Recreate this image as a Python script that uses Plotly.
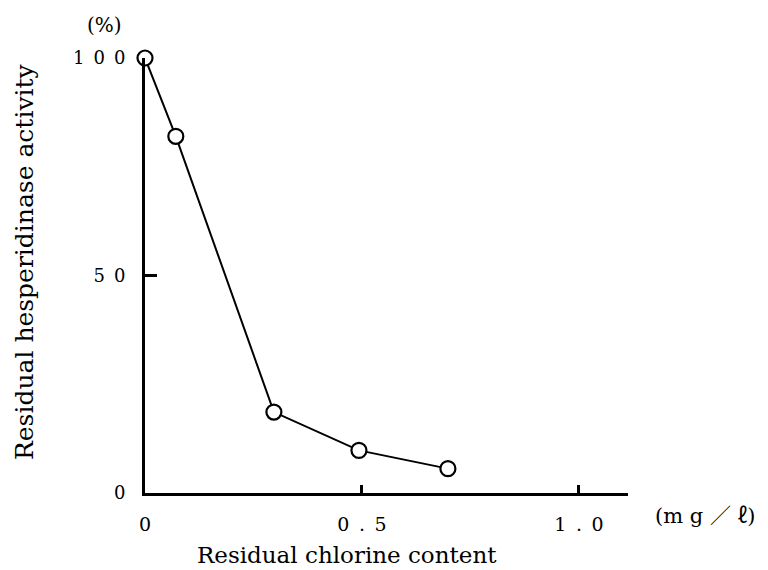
import plotly.graph_objects as go

chlorine = [0.0, 0.071, 0.297, 0.493, 0.698]
activity = [100, 82, 18.6, 9.8, 5.6]
x_tick_vals = [0, 0.5, 1.0]
x_tick_text = ["0", "0\u2002.\u20025", "1\u2002.\u20020"]
y_tick_vals = [0, 50, 100]
y_tick_text = ["0", "5\u20020", "1\u20020\u20020"]
x_title = "Residual chlorine content"
y_title = "Residual hesperidinase activity"
x_unit = "(m g ／ ℓ)"
y_unit = "(%)"

FONT = "DejaVu Serif, Liberation Serif, serif"
L, T, W, H = 145, 58, 483, 435  # plot area in pixels


def px(x, y):
    return (x - L) / W, 1 - (y - T) / H


fig = go.Figure()
fig.add_trace(go.Scatter(
    x=chlorine, y=activity, mode="lines+markers",
    line=dict(color="black", width=2),
    marker=dict(size=15, color="white", line=dict(color="black", width=2.2)),
    cliponaxis=False, showlegend=False,
))

ann = []
for text, (x, y), angle, size, fam in [
    (x_title, px(347, 555), 0, 23, FONT),
    (y_title, px(24, 262), -90, 25, FONT),
    (y_unit, px(104, 25), 0, 20, FONT),
    (x_unit, px(705, 516), 0, 21, "DejaVu Serif, Noto Sans CJK JP, serif"),
]:
    ann.append(dict(text=text, xref="paper", yref="paper", x=x, y=y,
                    textangle=angle, showarrow=False,
                    xanchor="center", yanchor="middle",
                    font=dict(size=size, family=fam, color="black")))

fig.update_layout(
    width=768, height=570,
    margin=dict(l=L, r=768 - L - W, t=T, b=570 - T - H),
    paper_bgcolor="white", plot_bgcolor="white",
    font=dict(family=FONT, size=19, color="black"),
    xaxis=dict(
        range=[0, 1.113], showgrid=False, zeroline=False, automargin=False,
        showline=True, linecolor="black", linewidth=3,
        ticks="inside", ticklen=8, tickwidth=2.5, tickcolor="black",
        tickvals=x_tick_vals, ticktext=x_tick_text,
        ticklabelstandoff=12, tickfont=dict(size=19),
    ),
    yaxis=dict(
        range=[0, 100], showgrid=False, zeroline=False, automargin=False,
        showline=True, linecolor="black", linewidth=3,
        ticks="inside", ticklen=12, tickwidth=2.5, tickcolor="black",
        tickvals=y_tick_vals, ticktext=y_tick_text,
        ticklabelstandoff=13, tickfont=dict(size=18),
    ),
    annotations=ann,
)

fig.write_html(
    "out.html",
    config={"displayModeBar": False},
    post_script="document.body.style.margin='0px';"
                "document.body.style.overflow='hidden';",
)
